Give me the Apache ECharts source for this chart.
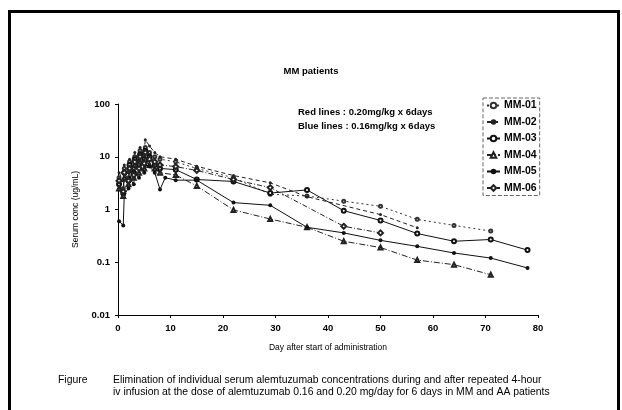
<!DOCTYPE html>
<html>
<head>
<meta charset="utf-8">
<script src="https://cdn.jsdelivr.net/npm/echarts@6/dist/echarts.min.js"></script>
<style>
  html, body { margin: 0; background: #fff; }
  #chart { width: 622px; height: 410px; }
</style>
</head>
<body>
<div id="chart"></div>
<script>
// sampling days (day after start of administration)
const dayGrid = [0.2, 1, 1.2, 2, 2.2, 3, 3.2, 4, 4.2, 5, 5.2, 6, 7, 8, 9, 11, 15, 22, 29, 36, 43, 50, 57, 64, 71, 78]

// serum conc (ug/mL), null = no sample
const mm01 = [4, 2.5, 6, 4, 8, 6, 10, 8, 13, 11, 15, 12, 10, 9, null, 8, 6.0, 4.0, 1.95, 1.8, 1.44, 1.15, 0.65, 0.5, 0.39, null]
const mm02 = [5, 3.5, 7, 5, 9, 7, 12, 9, 15, 13, 21, 16, 12, 10, null, 9, 6.6, 4.4, 3.2, 1.75, null, 0.8, 0.45, null, null, null]
const mm03 = [3, 2, 5, 3.5, 7, 5, 9, 7, 11, 9, 13, 10, 7, 6, null, 5.7, 3.7, 3.4, 2.05, 2.35, 0.95, 0.62, 0.35, 0.25, 0.27, 0.17]
const mm04 = [2.5, 1.8, 4, 3, 5.5, 4, 7, 5, 8, 6, 9, 7, 6, 5, null, 4.5, 2.8, 0.98, 0.66, 0.46, 0.25, 0.19, 0.11, 0.09, 0.058, null]
const mm05 = [0.6, 0.5, 2, 2.5, 4, 3, 5, 4, 6, 5, 7, 6.5, 5, 2.4, 4.0, 3.6, 3.6, 1.35, 1.2, 0.46, 0.36, 0.26, 0.2, 0.15, 0.12, 0.078]
const mm06 = [3.5, 2.2, 5, 3.5, 6, 4.5, 8, 6, 10, 7.5, 12, 9, 8, 7, null, 6.5, 5.5, 3.7, 2.6, null, 0.48, 0.36, null, null, null, null]

const seriesNames = ['MM-01', 'MM-02', 'MM-03', 'MM-04', 'MM-05', 'MM-06']
const seriesValues = [mm01, mm02, mm03, mm04, mm05, mm06]

const lineLooks = [
  { type: [2, 3], symbol: 'emptyCircle', size: 3, color: '#333' },
  { type: [4, 3], symbol: 'circle', size: 3, color: '#222' },
  { type: 'solid', symbol: 'emptyCircle', size: 4, color: '#111' },
  { type: [6, 2, 1, 2], symbol: 'emptyTriangle', size: 4, color: '#222' },
  { type: 'solid', symbol: 'circle', size: 4, color: '#111' },
  { type: [5, 2, 1, 2], symbol: 'emptyDiamond', size: 5, color: '#222' }
]

const font = 'Liberation Sans'

const chart = echarts.init(document.getElementById('chart'), null, { renderer: 'canvas' })

const series = seriesNames.map((name, i) => ({
  name,
  type: 'line',
  connectNulls: true,
  data: dayGrid.map((d, j) => [d, seriesValues[i][j]]).filter(p => p[1] != null),
  symbol: lineLooks[i].symbol,
  symbolSize: lineLooks[i].size,
  itemStyle: { color: lineLooks[i].color, borderWidth: 1 },
  lineStyle: { color: lineLooks[i].color, width: 1, type: lineLooks[i].type },
  animation: false
}))

chart.setOption({
  backgroundColor: '#fff',
  animation: false,
  grid: { left: 118, top: 104, width: 420, height: 211 },
  legend: {
    orient: 'vertical',
    left: 483,
    top: 98,
    itemWidth: 13,
    itemHeight: 7,
    itemGap: 5.5,
    padding: [2, 3, 2, 3],
    borderColor: '#666',
    borderWidth: 1,
    borderType: 'dashed',
    textStyle: { fontFamily: font, fontSize: 10.5, fontWeight: 'bold', color: '#000', padding: [0, 0, 0, -1] }
  },
  xAxis: {
    type: 'value',
    min: 0,
    max: 80,
    interval: 10,
    name: 'Day after start of administration',
    nameLocation: 'middle',
    nameGap: 28,
    nameTextStyle: { fontFamily: font, fontSize: 8.5, color: '#000' },
    axisLine: { lineStyle: { color: '#000', width: 1 } },
    axisTick: { length: 3, lineStyle: { color: '#000' } },
    axisLabel: { fontFamily: font, fontSize: 9.5, fontWeight: 'bold', color: '#000', margin: 8 },
    splitLine: { show: false }
  },
  yAxis: {
    type: 'log',
    logBase: 10,
    min: 0.01,
    max: 100,
    name: 'Serum conc (ug/mL)',
    nameLocation: 'middle',
    nameGap: 34,
    nameTextStyle: { fontFamily: font, fontSize: 8.5, color: '#000' },
    axisLine: { show: true, lineStyle: { color: '#000', width: 1 } },
    axisTick: { show: true, length: 3, lineStyle: { color: '#000' } },
    axisLabel: { fontFamily: font, fontSize: 9.5, fontWeight: 'bold', color: '#000', margin: 8 },
    splitLine: { show: false }
  },
  graphic: [
    { type: 'rect', shape: { x: 9.5, y: 11.5, width: 609, height: 420 }, style: { fill: 'none', stroke: '#000', lineWidth: 3 }, silent: true },
    { type: 'text', x: 311, y: 71, style: { text: 'MM patients', font: 'bold 9.5px ' + font, fill: '#000', align: 'center', verticalAlign: 'middle' } },
    { type: 'text', x: 298, y: 112, style: { text: 'Red lines : 0.20mg/kg x 6days', font: 'bold 9.5px ' + font, fill: '#000', verticalAlign: 'middle' } },
    { type: 'text', x: 298, y: 126, style: { text: 'Blue lines : 0.16mg/kg x 6days', font: 'bold 9.5px ' + font, fill: '#000', verticalAlign: 'middle' } },
    { type: 'text', x: 58, y: 380, style: { text: 'Figure', font: '10.4px ' + font, fill: '#000', verticalAlign: 'middle' } },
    { type: 'text', x: 113, y: 380, style: { text: 'Elimination of individual serum alemtuzumab concentrations during and after repeated 4-hour', font: '10.4px ' + font, fill: '#000', verticalAlign: 'middle' } },
    { type: 'text', x: 113, y: 392, style: { text: 'iv infusion at the dose of alemtuzumab 0.16 and 0.20 mg/day for 6 days in MM and AA patients', font: '10.4px ' + font, fill: '#000', verticalAlign: 'middle' } }
  ],
  series
})

window.addEventListener('resize', () => chart.resize())
</script>
</body>
</html>
